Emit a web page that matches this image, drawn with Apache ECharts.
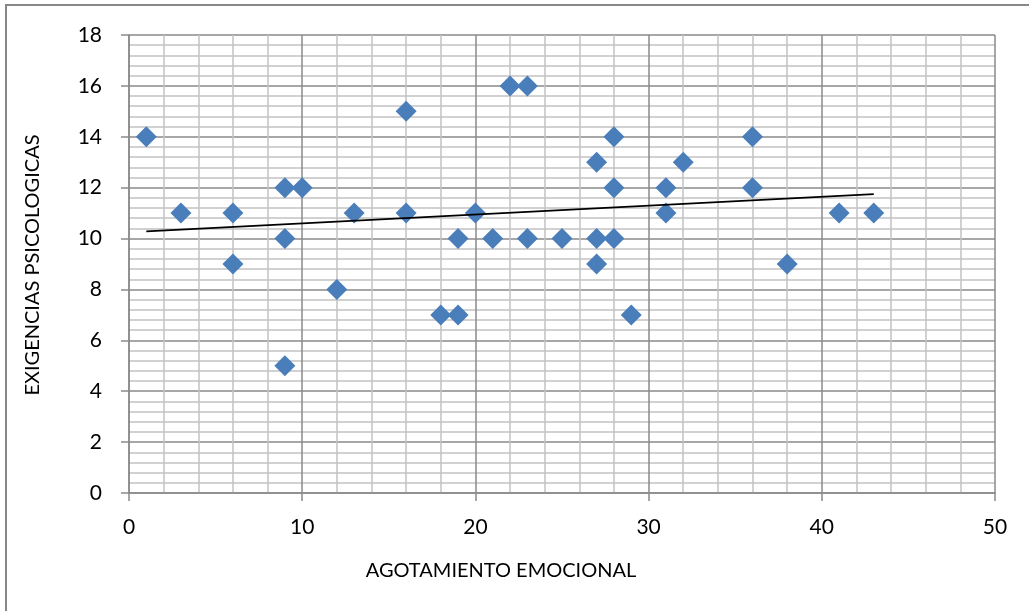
<!DOCTYPE html>
<html>
<head>
<meta charset="utf-8">
<script src="https://cdn.jsdelivr.net/npm/echarts@6/dist/echarts.min.js"></script>
<style>
  html, body { margin: 0; padding: 0; background: #ffffff; }
  #chart { width: 1029px; height: 611px; }
</style>
</head>
<body>
<div id="chart"></div>
<script>
// Agotamiento emocional (x) vs. exigencias psicológicas (y)
var agotamiento = [1, 3, 6, 6, 9, 9, 9, 10, 12, 13, 16, 16, 18, 19, 19, 20, 21, 22, 23, 23,
                   25, 27, 27, 27, 28, 28, 28, 29, 31, 31, 32, 36, 36, 38, 41, 43];
var exigencias  = [14, 11, 11, 9, 12, 10, 5, 12, 8, 11, 15, 11, 7, 7, 10, 11, 10, 16, 16, 10,
                   10, 13, 10, 9, 14, 12, 10, 7, 12, 11, 13, 14, 12, 9, 11, 11];

// Linear trendline end points
var trendX = [1, 43];
var trendY = [10.28, 11.75];

var xName = 'AGOTAMIENTO EMOCIONAL';
var yName = 'EXIGENCIAS PSICOLOGICAS';

var points = agotamiento.map(function (x, i) { return [x, exigencias[i]]; });
var trend = trendX.map(function (x, i) { return [x, trendY[i]]; });

var FONT = 'Lato, "Open Sans", sans-serif';
var MAJOR = '#8a8a8a';
var MINOR = '#c2c2c2';

var chart = echarts.init(document.getElementById('chart'), null, { renderer: 'canvas' });

chart.setOption({
  animation: false,
  backgroundColor: '#ffffff',
  grid: { left: 129, top: 35, width: 866, height: 458, containLabel: false },
  xAxis: {
    type: 'value',
    min: 0, max: 50, interval: 10,
    axisLine: { show: true, onZero: false, lineStyle: { color: MAJOR, width: 1.5 } },
    axisTick: { show: true, length: 8, lineStyle: { color: MAJOR, width: 1.5 } },
    axisLabel: { color: '#000', fontFamily: FONT, fontSize: 21, margin: 24 },
    splitLine: { show: true, lineStyle: { color: MAJOR, width: 1.5 } },
    minorTick: { show: false, splitNumber: 5 },
    minorSplitLine: { show: true, lineStyle: { color: MINOR, width: 1.5 } }
  },
  yAxis: {
    type: 'value',
    min: 0, max: 18, interval: 2,
    axisLine: { show: true, onZero: false, lineStyle: { color: MAJOR, width: 1.5 } },
    axisTick: { show: true, length: 8, lineStyle: { color: MAJOR, width: 1.5 } },
    axisLabel: { color: '#000', fontFamily: FONT, fontSize: 21, margin: 27 },
    splitLine: { show: true, lineStyle: { color: MAJOR, width: 1.5 } },
    minorTick: { show: false, splitNumber: 5 },
    minorSplitLine: { show: true, lineStyle: { color: MINOR, width: 1.5 } }
  },
  graphic: [
    {
      type: 'rect', silent: true, z: -1,
      shape: { x: 6, y: 5, width: 1040, height: 640 },
      style: { fill: 'none', stroke: '#888888', lineWidth: 2 }
    },
    {
      type: 'text', silent: true,
      x: 501, y: 571,
      style: {
        text: xName, fill: '#000', font: '20px ' + FONT,
        textAlign: 'center', textVerticalAlign: 'middle'
      }
    },
    {
      type: 'text', silent: true,
      x: 33, y: 265, rotation: Math.PI / 2,
      style: {
        text: yName, fill: '#000', font: '20px ' + FONT,
        textAlign: 'center', textVerticalAlign: 'middle'
      }
    }
  ],
  series: [
    {
      type: 'scatter',
      data: points,
      symbol: 'diamond',
      symbolSize: 21,
      itemStyle: { color: '#4a7ebb', opacity: 1 },
      z: 3
    },
    {
      type: 'line',
      data: trend,
      symbol: 'none',
      lineStyle: { color: '#000', width: 1.8 },
      z: 4
    }
  ]
});
</script>
</body>
</html>
